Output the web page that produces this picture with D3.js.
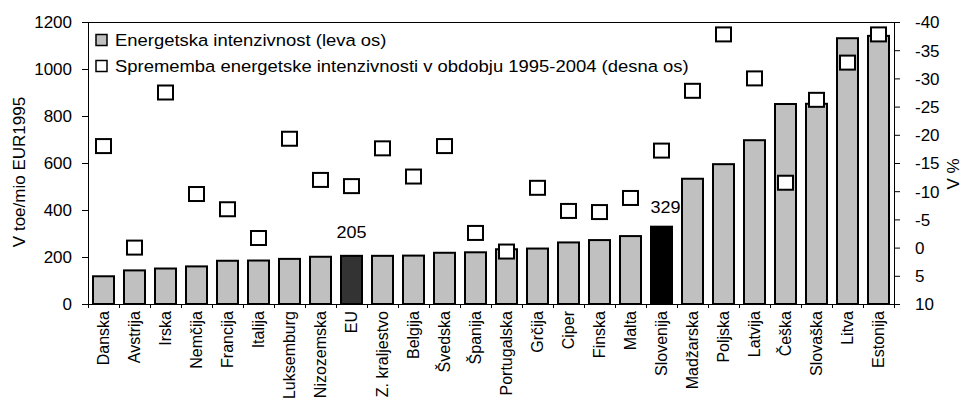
<!DOCTYPE html>
<html>
<head>
<meta charset="utf-8">
<script src="https://cdn.jsdelivr.net/npm/d3@7"></script>
<style>
  body { margin: 0; background: #fff; }
  text { font-family: "Liberation Sans", Arial, sans-serif; fill: #000; }
</style>
</head>
<body>
<svg id="chart" width="962" height="398"></svg>
<script>
// Energy intensity by country (toe per million EUR 1995) and its change 1995-2004 (%)
const categories = ["Danska","Avstrija","Irska","Nemčija","Francija","Italija","Luksemburg",
  "Nizozemska","EU","Z. kraljestvo","Belgija","Švedska","Španija","Portugalska","Grčija",
  "Ciper","Finska","Malta","Slovenija","Madžarska","Poljska","Latvija","Češka","Slovaška",
  "Litva","Estonija"];
const intensity = [118,143,151,160,184,185,192,201,205,205,206,218,220,233,236,
  262,272,289,329,533,595,697,851,852,1131,1141];
const change = [-18,0,-27.5,-9.5,-6.8,-1.7,-19.3,-12,-10.9,-17.6,-12.6,-18,-2.6,
  0.7,-10.6,-6.5,-6.3,-8.8,-17.2,-27.8,-37.8,-30,-11.5,-26.2,-32.8,-37.8];
const leftTicks = [0,200,400,600,800,1000,1200];
const rightTicks = [-40,-35,-30,-25,-20,-15,-10,-5,0,5,10];
const barColors = { "EU": "#333333", "Slovenija": "#000000" };
const valueLabels = ["EU","Slovenija"];
const legendItems = [
  { text: "Energetska intenzivnost (leva os)", fill: "#c0c0c0" },
  { text: "Sprememba energetske intenzivnosti v obdobju 1995-2004 (desna os)", fill: "#ffffff" }
];

const FS = 17;          // font size of horizontal lettering
const SX_LEGEND = 1.085; // legend lettering runs a little wide
const SX_LABEL = 1.06;

const svg = d3.select("#chart");
const m = { left: 88, right: 894, top: 22, bottom: 304 };

const x = d3.scaleBand().domain(categories).range([m.left, m.right])
  .paddingInner(10/31).paddingOuter(5/31);
const yL = d3.scaleLinear().domain([0, 1200]).range([m.bottom, m.top]);
const yR = d3.scaleLinear().domain([10, -40]).range([m.bottom, m.top]);

const plainNumber = d => String(d);   // keeps the ASCII hyphen for negatives

function styleTicks(sel, anchor, offset) {
  sel.attr("x", offset).attr("text-anchor", anchor).attr("dy", "0.35em")
     .style("font-size", FS + "px")
     .style("font-family", '"Liberation Sans", Arial, sans-serif');
}

// frame top line
svg.append("line").attr("x1", m.left).attr("x2", m.right)
  .attr("y1", m.top + 0.5).attr("y2", m.top + 0.5).attr("stroke", "#000");

// left axis
const gL = svg.append("g").attr("transform", `translate(${m.left},0)`)
  .call(d3.axisLeft(yL).tickValues(leftTicks).tickFormat(plainNumber)
    .tickSize(6).tickSizeOuter(0));
gL.select(".domain").attr("stroke", "#000");
gL.selectAll(".tick line").attr("stroke", "#000");
styleTicks(gL.selectAll(".tick text"), "end", -16);

// right axis
const gR = svg.append("g").attr("transform", `translate(${m.right},0)`)
  .call(d3.axisRight(yR).tickValues(rightTicks).tickFormat(plainNumber)
    .tickSize(6).tickSizeOuter(0));
gR.select(".domain").attr("stroke", "#000");
gR.selectAll(".tick line").attr("stroke", "#000");
styleTicks(gR.selectAll(".tick text"), "start", 21);

// bottom axis with ticks on category boundaries
const gB = svg.append("g").attr("transform", `translate(0,${m.bottom})`)
  .call(d3.axisBottom(x).tickSize(0).tickFormat(""));
gB.select(".domain").attr("stroke", "#000");
const step = x.step();
const boundaries = categories.map(c => x(c) - (step - x.bandwidth()) / 2).concat([m.right]);
gB.selectAll(".bound").data(boundaries).enter().append("line")
  .attr("x1", d => Math.round(d) + 0.5).attr("x2", d => Math.round(d) + 0.5)
  .attr("y1", 0).attr("y2", 4).attr("stroke", "#000");

// category labels
svg.append("g").selectAll("text").data(categories).enter().append("text")
  .attr("transform", d => `translate(${x(d) + x.bandwidth()/2},${m.bottom + 7}) rotate(-90)`)
  .attr("text-anchor", "end").attr("dy", "0.35em")
  .style("font-size", "16px")
  .text(d => d);

// bars
svg.append("g").selectAll("rect").data(categories).enter().append("rect")
  .attr("x", d => x(d)).attr("width", x.bandwidth())
  .attr("y", (d, i) => yL(intensity[i]))
  .attr("height", (d, i) => yL(0) - yL(intensity[i]))
  .attr("fill", d => barColors[d] || "#c0c0c0")
  .attr("stroke", "#000").attr("stroke-width", 2);

// value labels above highlighted bars
const labelShift = { "EU": [0, -18], "Slovenija": [4, -14] };
svg.append("g").selectAll("text").data(valueLabels).enter().append("text")
  .attr("transform", d => {
    const i = categories.indexOf(d);
    const s = labelShift[d];
    return `translate(${x(d) + x.bandwidth()/2 + s[0]},${yL(intensity[i]) + s[1]}) scale(${SX_LABEL},1)`;
  })
  .attr("text-anchor", "middle").style("font-size", FS + "px")
  .text(d => intensity[categories.indexOf(d)]);

// change markers (right axis)
const ms = { w: 15, h: 14 };
svg.append("g").selectAll("rect").data(categories).enter().append("rect")
  .attr("x", d => x(d) + x.bandwidth()/2 - ms.w/2)
  .attr("y", (d, i) => yR(change[i]) - ms.h/2)
  .attr("width", ms.w).attr("height", ms.h)
  .attr("fill", "#fff").attr("stroke", "#000").attr("stroke-width", 2);

// legend
const lg = svg.append("g");
legendItems.forEach((it, k) => {
  const cy = 40 + k * 26;
  lg.append("rect").attr("x", 96).attr("y", cy - 5.5).attr("width", 11).attr("height", 11)
    .attr("fill", it.fill).attr("stroke", "#000").attr("stroke-width", 1.5);
  lg.append("text").attr("transform", `translate(115,${cy}) scale(${SX_LEGEND},1)`)
    .attr("dy", "0.35em").style("font-size", FS + "px").text(it.text);
});

// axis titles
svg.append("text").attr("transform", `translate(19,172) rotate(-90)`)
  .attr("text-anchor", "middle").attr("dy", "0.35em").style("font-size", "17px")
  .text("V toe/mio EUR1995");
svg.append("text").attr("transform", `translate(953,174) rotate(-90)`)
  .attr("text-anchor", "middle").attr("dy", "0.35em").style("font-size", "17px")
  .text("V %");
</script>
</body>
</html>
